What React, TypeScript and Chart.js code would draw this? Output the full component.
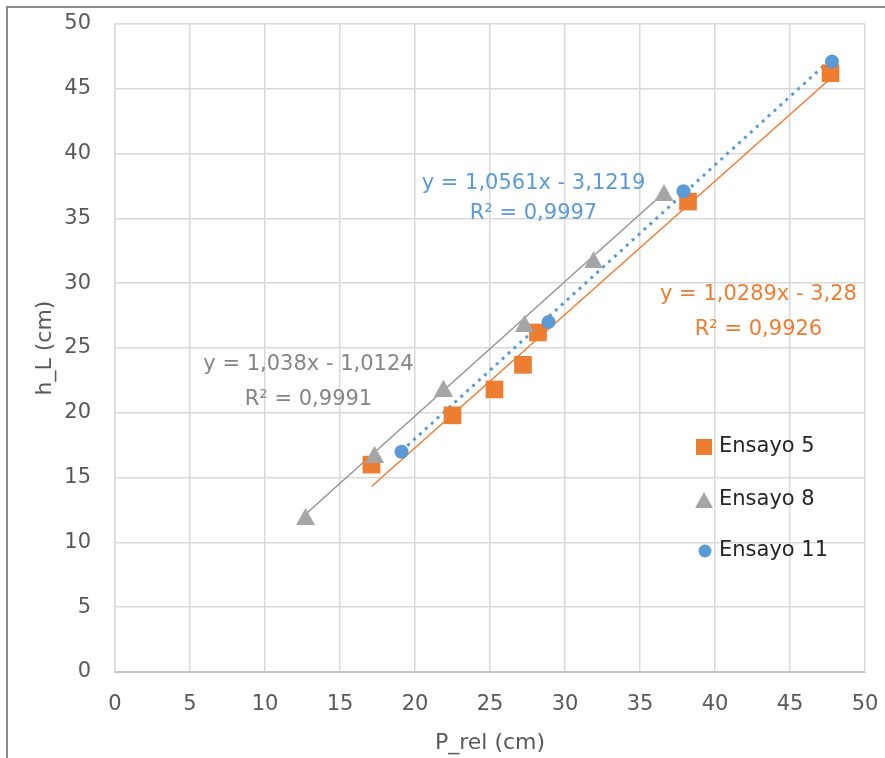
import React, { useEffect, useRef } from "react";
import { Chart, registerables } from "chart.js";

Chart.register(...registerables);

// ---------- data ----------
const seriesNames = ["Ensayo 5", "Ensayo 8", "Ensayo 11"];
const ensayo5X = [17.1, 22.5, 25.3, 27.2, 28.2, 38.2, 47.7];
const ensayo5Y = [16.0, 19.8, 21.8, 23.7, 26.2, 36.3, 46.2];
const ensayo8X = [12.7, 17.3, 21.9, 27.3, 31.9, 36.6];
const ensayo8Y = [12.0, 16.8, 21.9, 26.9, 31.8, 37.0];
const ensayo11X = [19.1, 28.9, 37.9, 47.8];
const ensayo11Y = [17.0, 27.0, 37.1, 47.1];

// linear trendline coefficients (as displayed on chart)
const trendSlopes = [1.0289, 1.038, 1.0561];
const trendIntercepts = [-3.28, -1.0124, -3.1219];
const trendEquations = ["y = 1,0289x - 3,28", "y = 1,038x - 1,0124", "y = 1,0561x - 3,1219"];
const trendR2 = ["R² = 0,9926", "R² = 0,9991", "R² = 0,9997"];

const xTicks = [0, 5, 10, 15, 20, 25, 30, 35, 40, 45, 50];
const yTicks = [0, 5, 10, 15, 20, 25, 30, 35, 40, 45, 50];

const xTitle = "P_rel (cm)";
const yTitle = "h_L (cm)";

// ---------- styles ----------
const colors = ["#ED7D31", "#A5A5A5", "#5B9BD5"];
const labelColors = ["#ED7D31", "#858585", "#5B9BD5"];
const FONT = "'DejaVu Sans', sans-serif";
// equation label anchor positions (data units): [centerX, line1Y, line2Y]
const labelAnchors = [
  [42.9, 29.1, 26.4],
  [12.9, 23.7, 21.0],
  [27.9, 37.7, 35.4],
];

function makeTriangle(w: number, h: number, color: string) {
  const c = document.createElement("canvas");
  c.width = w;
  c.height = h;
  const ctx = c.getContext("2d")!;
  ctx.fillStyle = color;
  ctx.beginPath();
  ctx.moveTo(w / 2, 0);
  ctx.lineTo(w, h);
  ctx.lineTo(0, h);
  ctx.closePath();
  ctx.fill();
  return c;
}

export default function App() {
  const ref = useRef<HTMLCanvasElement | null>(null);

  useEffect(() => {
    if (!ref.current) return;
    const tri = makeTriangle(19, 17, colors[1]);
    const triLegend = makeTriangle(18, 16, colors[1]);

    const xs = [ensayo5X, ensayo8X, ensayo11X];
    const ys = [ensayo5Y, ensayo8Y, ensayo11Y];

    const pointSets = xs.map((arr, i) => arr.map((x, j) => ({ x, y: ys[i][j] })));
    const trendSets = xs.map((arr, i) => {
      const lo = Math.min(...arr);
      const hi = Math.max(...arr);
      return [
        { x: lo, y: trendSlopes[i] * lo + trendIntercepts[i] },
        { x: hi, y: trendSlopes[i] * hi + trendIntercepts[i] },
      ];
    });

    const framePlugin = {
      id: "frame",
      beforeDraw(chart: any) {
        const ctx = chart.ctx;
        ctx.save();
        ctx.fillStyle = "#ffffff";
        ctx.fillRect(0, 0, chart.width, chart.height);
        ctx.fillStyle = "#8c8c8c";
        ctx.fillRect(6, 6, 2, chart.height - 6);
        ctx.fillRect(6, 6, chart.width - 6, 2);
        ctx.restore();
      },
    };

    const annotPlugin = {
      id: "annot",
      afterDatasetsDraw(chart: any) {
        const ctx = chart.ctx;
        const xs = chart.scales.x;
        const ysc = chart.scales.y;
        const area = chart.chartArea;
        ctx.save();
        // equations
        ctx.font = `21px ${FONT}`;
        ctx.textAlign = "center";
        ctx.textBaseline = "middle";
        for (let i = 0; i < 3; i++) {
          const [cx, y1, y2] = labelAnchors[i];
          ctx.fillStyle = labelColors[i];
          ctx.fillText(trendEquations[i], xs.getPixelForValue(cx), ysc.getPixelForValue(y1));
          ctx.fillText(trendR2[i], xs.getPixelForValue(cx), ysc.getPixelForValue(y2));
        }
        // legend
        const lx = area.right - 161;
        const ly = [447, 500, 551];
        ctx.fillStyle = colors[0];
        ctx.fillRect(lx - 8, ly[0] - 8, 16, 16);
        ctx.drawImage(triLegend, lx - 9, ly[1] - 8);
        ctx.fillStyle = colors[2];
        ctx.beginPath();
        ctx.arc(lx + 1, ly[2], 6.5, 0, Math.PI * 2);
        ctx.fill();
        ctx.fillStyle = "#262626";
        ctx.textAlign = "left";
        for (let i = 0; i < 3; i++) {
          ctx.fillText(seriesNames[i], lx + 15, ly[i]);
        }
        // axis titles
        ctx.fillStyle = "#595959";
        ctx.font = `22px ${FONT}`;
        ctx.textAlign = "center";
        ctx.fillText(xTitle, (area.left + area.right) / 2, 743);
        ctx.translate(45, (area.top + area.bottom) / 2);
        ctx.rotate(-Math.PI / 2);
        ctx.fillText(yTitle, 0, 0);
        ctx.restore();
      },
    };

    const chart = new Chart(ref.current, {
      type: "scatter",
      data: {
        datasets: [
          {
            label: seriesNames[0],
            data: pointSets[0],
            backgroundColor: colors[0],
            borderColor: colors[0],
            pointStyle: "rect",
            pointRadius: 12.5,
            pointBorderWidth: 0,
            order: 3,
          },
          {
            label: seriesNames[1],
            data: pointSets[1],
            backgroundColor: colors[1],
            borderColor: colors[1],
            pointStyle: tri as any,
            pointRadius: 10,
            order: 2,
          },
          {
            label: seriesNames[2],
            data: pointSets[2],
            backgroundColor: colors[2],
            borderColor: colors[2],
            pointStyle: "circle",
            pointRadius: 7,
            pointBorderWidth: 0,
            order: 1,
          },
          {
            type: "line",
            label: "trend5",
            data: trendSets[0],
            borderColor: colors[0],
            borderWidth: 1.5,
            pointRadius: 0,
            fill: false,
            order: 6,
          },
          {
            type: "line",
            label: "trend8",
            data: trendSets[1],
            borderColor: "#959595",
            borderWidth: 1.5,
            pointRadius: 0,
            fill: false,
            order: 5,
          },
          {
            type: "line",
            label: "trend11",
            data: trendSets[2],
            borderColor: colors[2],
            borderWidth: 3,
            borderDash: [3, 5],
            pointRadius: 0,
            fill: false,
            order: 4,
          },
        ] as any,
      },
      options: {
        animation: false,
        responsive: false,
        maintainAspectRatio: false,
        layout: { padding: { top: 24, right: 20, left: 0, bottom: 0 } },
        plugins: {
          legend: { display: false },
          tooltip: { enabled: false },
        },
        scales: {
          x: {
            type: "linear",
            min: xTicks[0],
            max: xTicks[xTicks.length - 1],
            afterBuildTicks: (s: any) => {
              s.ticks = xTicks.map((v) => ({ value: v }));
            },
            afterFit: (s: any) => {
              s.height = 86;
              s.paddingLeft = 0;
              s.paddingRight = 0;
            },
            grid: { color: "#d9d9d9", lineWidth: 1.5, drawTicks: false },
            border: { color: "#c6c6c6", width: 2 },
            ticks: {
              padding: 20,
              color: "#595959",
              font: { family: FONT, size: 21 },
              maxRotation: 0,
            },
          },
          y: {
            type: "linear",
            min: yTicks[0],
            max: yTicks[yTicks.length - 1],
            afterBuildTicks: (s: any) => {
              s.ticks = yTicks.map((v) => ({ value: v }));
            },
            afterFit: (s: any) => {
              s.width = 115;
              s.paddingTop = 0;
              s.paddingBottom = 0;
            },
            grid: { color: "#d9d9d9", lineWidth: 1.5, drawTicks: false },
            border: { color: "#d9d9d9", width: 1.5 },
            ticks: {
              padding: 24,
              color: "#595959",
              font: { family: FONT, size: 21 },
            },
          },
        },
      },
      plugins: [framePlugin, annotPlugin],
    } as any);

    return () => chart.destroy();
  }, []);

  return (
    <div style={{ position: "fixed", left: 0, top: 0, width: 885, height: 758, background: "#fff" }}>
      <canvas ref={ref} width={885} height={758} style={{ width: 885, height: 758, display: "block" }} />
    </div>
  );
}
